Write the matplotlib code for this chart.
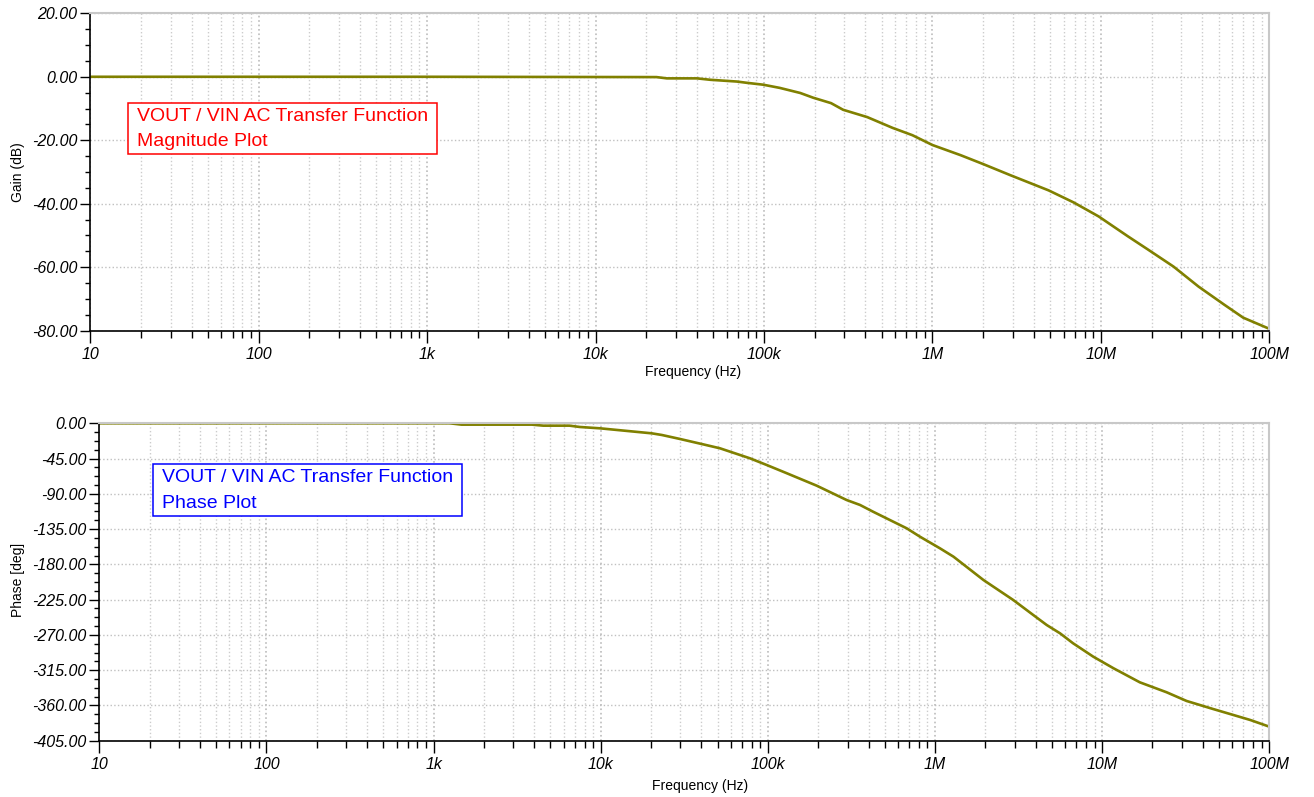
import matplotlib
matplotlib.use("Agg")
import matplotlib.pyplot as plt
from matplotlib.patches import Rectangle
from matplotlib.ticker import MultipleLocator, LogLocator, NullFormatter
import numpy as np

plt.rcParams['font.family'] = ['Liberation Sans', 'DejaVu Sans']

# magnitude
gain_freq = [10, 1e3, 2.3e4, 2.65e4, 4e4, 4.8e4, 6.9e4, 7.9e4, 9.9e4, 1.24e5,
             1.64e5, 1.96e5, 2.5e5, 2.95e5, 4.1e5, 5.8e5, 7.6e5, 1e6, 1.47e6,
             2e6, 2.9e6, 4.9e6, 6.9e6, 9.7e6, 1.45e7, 1.9e7, 2.7e7, 3.8e7,
             5.4e7, 7e7, 1e8]
gain_db = [0, 0, -0.1, -0.5, -0.5, -0.95, -1.5, -1.9, -2.5, -3.5,
           -5.1, -6.6, -8.3, -10.4, -12.7, -16.1, -18.4, -21.5, -24.7,
           -27.5, -31, -35.8, -39.6, -44, -50.3, -54.4, -59.8, -66.1,
           -71.8, -75.9, -79.4]

# phase
phase_freq = [10, 1.25e3, 1.47e3, 3.87e3, 4.53e3, 6.5e3, 7.5e3, 9.9e3, 2.02e4,
              2.32e4, 2.98e4, 4.09e4, 5.17e4, 7.82e4, 9.84e4, 1.3e5, 1.96e5,
              2.96e5, 3.56e5, 4.26e5, 6.77e5, 8.13e5, 1.07e6, 1.29e6, 1.95e6,
              2.94e6, 3.87e6, 4.66e6, 5.6e6, 6.7e6, 8.85e6, 1.17e7, 1.68e7,
              2.43e7, 3.2e7, 4.6e7, 6.1e7, 7.7e7, 1e8]
phase_deg = [0, 0, -1.7, -1.7, -3, -3, -4.7, -6.4, -12.8,
             -14.9, -20, -26.8, -31.9, -44.7, -53.2, -63.8, -79.6,
             -97.9, -104.2, -112.8, -134, -144.7, -159.5, -170.2, -200,
             -225.5, -244.6, -257.4, -268, -280.7, -297.8, -312.6, -330.5,
             -343.2, -354.3, -364.5, -372.2, -378.6, -387.1]

freq_ticks = [10, 100, 1e3, 1e4, 1e5, 1e6, 1e7, 1e8]
freq_labels = ['10', '100', '1k', '10k', '100k', '1M', '10M', '100M']
gain_ticks = [20, 0, -20, -40, -60, -80]
phase_ticks = [0, -45, -90, -135, -180, -225, -270, -315, -360, -405]

W, H = 1314, 797
line_color = '#808000'


def fx(px):
    return px / W


def fy(py):
    return 1 - py / H


def style_axes(ax, yticks, yminor):
    ax.set_xscale('log')
    ax.set_xlim(10, 1e8)
    ax.set_ylim(min(yticks), max(yticks))
    ax.set_xticks(freq_ticks)
    ax.set_xticklabels(freq_labels)
    ax.xaxis.set_minor_locator(LogLocator(base=10, subs=np.arange(2, 10)))
    ax.xaxis.set_minor_formatter(NullFormatter())
    ax.set_yticks(yticks)
    ax.set_yticklabels(['%.2f' % v for v in yticks])
    ax.yaxis.set_minor_locator(MultipleLocator(yminor))
    ax.tick_params(axis='x', which='major', length=8.5, width=1, pad=3, labelsize=11.5)
    ax.tick_params(axis='x', which='minor', length=5, width=1)
    ax.tick_params(axis='y', which='major', length=7.5, width=1, pad=2, labelsize=11.5)
    ax.tick_params(axis='y', which='minor', length=3.5, width=1)
    for lab in ax.get_xticklabels() + ax.get_yticklabels():
        lab.set_style('italic')
    ax.grid(True, which='major', axis='x', linestyle=':', color='#bcbcbc', linewidth=1.2)
    ax.grid(True, which='minor', axis='x', linestyle=':', color='#cccccc', linewidth=1.0)
    ax.grid(True, which='major', axis='y', linestyle=':', color='#c0c0c0', linewidth=1.0)
    for s in ['top', 'right']:
        ax.spines[s].set_color('#c8c8c8')
        ax.spines[s].set_linewidth(1.5)
    for s in ['left', 'bottom']:
        ax.spines[s].set_color('black')
        ax.spines[s].set_linewidth(1.2)
    ax.set_axisbelow(True)


fig = plt.figure(figsize=(13.14, 7.97), dpi=100)

ax1 = fig.add_axes([fx(90.3), fy(330.7), fx(1269.3) - fx(90.3), fy(13.3) - fy(330.7)])
ax1.plot(gain_freq, gain_db, color=line_color, linewidth=1.9)
style_axes(ax1, gain_ticks, 5)

ax2 = fig.add_axes([fx(99.3), fy(740.7), fx(1269.3) - fx(99.3), fy(423.3) - fy(740.7)])
ax2.plot(phase_freq, phase_deg, color=line_color, linewidth=1.9)
style_axes(ax2, phase_ticks, 11.25)

# axis labels
fig.text(fx(693), fy(372), 'Frequency (Hz)', ha='center', va='center', fontsize=10)
fig.text(fx(700), fy(786), 'Frequency (Hz)', ha='center', va='center', fontsize=10)
fig.text(fx(18), fy(172), 'Gain (dB)', ha='center', va='center', rotation=90, fontsize=10)
fig.text(fx(18), fy(580), 'Phase [deg]', ha='center', va='center', rotation=90, fontsize=10)

# annotation boxes
fig.add_artist(Rectangle((fx(128.3), fy(154.3)), fx(437) - fx(128.3), fy(102.7) - fy(154.3),
                         transform=fig.transFigure, facecolor='white', edgecolor='#ff0000', linewidth=1.1))
fig.text(fx(136.7), fy(121), 'VOUT / VIN AC Transfer Function', color='#ff0000', fontsize=14, va='baseline')
fig.text(fx(136.7), fy(146), 'Magnitude Plot', color='#ff0000', fontsize=14, va='baseline')

fig.add_artist(Rectangle((fx(153.3), fy(516)), fx(462.3) - fx(153.3), fy(464.3) - fy(516),
                         transform=fig.transFigure, facecolor='white', edgecolor='#0000ff', linewidth=1.1))
fig.text(fx(161.7), fy(482), 'VOUT / VIN AC Transfer Function', color='#0000ff', fontsize=14, va='baseline')
fig.text(fx(161.7), fy(508), 'Phase Plot', color='#0000ff', fontsize=14, va='baseline')

fig.savefig('out.png', dpi=100)
